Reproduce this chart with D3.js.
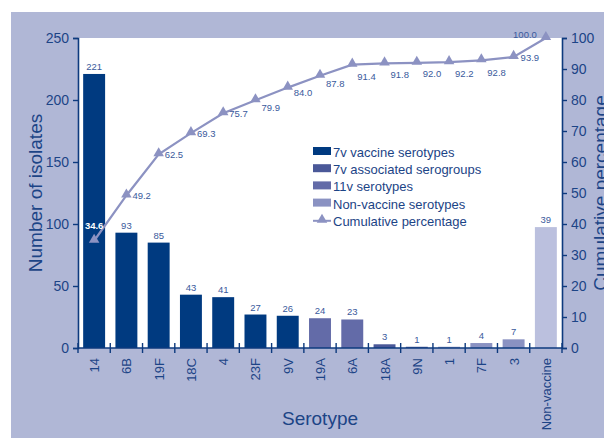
<!DOCTYPE html>
<html><head><meta charset="utf-8">
<script src="https://cdn.jsdelivr.net/npm/d3@7"></script>
<style>
html,body{margin:0;padding:0;background:#fff;}
svg{display:block;font-family:"Liberation Sans",Arial,sans-serif;}
</style></head>
<body>
<svg id="chart" width="604" height="438"></svg>
<script>
// ---- data ----
const categories = ["14","6B","19F","18C","4","23F","9V","19A","6A","18A","9N","1","7F","3","Non-vaccine"];
const isolates   = [221, 93, 85, 43, 41, 27, 26, 24, 23, 3, 1, 1, 4, 7, 39];
const cumulative = [34.6, 49.2, 62.5, 69.3, 75.7, 79.9, 84.0, 87.8, 91.4, 91.8, 92.0, 92.2, 92.8, 93.9, 100.0];
const groups     = ["v7","v7","v7","v7","v7","v7","v7","v11","v11","assoc","assoc","nonvac","nonvac","nonvac","other"];
const leftTicks  = [0, 50, 100, 150, 200, 250];
const rightTicks = [0, 10, 20, 30, 40, 50, 60, 70, 80, 90, 100];
const legendLabels = ["7v vaccine serotypes","7v associated serogroups","11v serotypes","Non-vaccine serotypes","Cumulative percentage"];
const legendGroups = ["v7","assoc","v11","nonvac"];

// ---- styling / placement ----
const groupColor = {v7:"#003a80", assoc:"#4a5898", v11:"#636ba8", nonvac:"#8a92c2", other:"#bbc0de"};
const lineColor = "#8c92c2";
const textColor = "#1c4486";
const axisColor = "#0d3a7e";
const labelColor = "#3a5a9c";
// cumulative label offsets (dx, dy, anchor) relative to marker
const cumLabelPlace = [
  [0,-15,"middle"],[6,0,"start"],[6,0,"start"],[6,0,"start"],[6,0,"start"],
  [6,7,"start"],[6,5,"start"],[6,8,"start"],[5,12,"start"],[6,11,"start"],
  [6,11,"start"],[6,11,"start"],[6,12,"start"],[7,1,"start"],[-9,-4,"end"]
];

const svg = d3.select("#chart");
const L = 78, R = 562, T = 38, B = 348;

svg.append("rect").attr("x",11).attr("y",12).attr("width",593).attr("height",426).attr("fill","#b0b7d6");
svg.append("rect").attr("x",L).attr("y",T).attr("width",R-L).attr("height",B-T).attr("fill","#fff");

const x = d3.scaleBand().domain(categories).range([L,R]).paddingInner(0.32).paddingOuter(0.16);
const yL = d3.scaleLinear().domain([0,250]).range([B,T]);
const yR = d3.scaleLinear().domain([0,100]).range([B,T]);
// the "Non-vaccine" bar is drawn against the right-hand (percentage) axis in the original
const barY = (i)=> groups[i]==="other" ? yR(isolates[i]) : yL(isolates[i]);

// bars
svg.append("g").selectAll("rect").data(categories).join("rect")
  .attr("x", d=>x(d)).attr("width", x.bandwidth())
  .attr("y", (d,i)=>barY(i)).attr("height",(d,i)=>B-barY(i))
  .attr("fill",(d,i)=>groupColor[groups[i]]);

// bar labels
svg.append("g").selectAll("text").data(categories).join("text")
  .attr("x", d=>x(d)+x.bandwidth()/2).attr("y",(d,i)=>barY(i)-4)
  .attr("text-anchor","middle").attr("font-size",9.5).attr("fill",labelColor)
  .text((d,i)=>isolates[i]);

// axes
const axL = d3.axisLeft(yL).tickValues(leftTicks).tickSizeOuter(0).tickSize(5).tickPadding(4);
const gL = svg.append("g").attr("transform",`translate(${L},0)`).call(axL);
const axRt = d3.axisRight(yR).tickValues(rightTicks).tickSizeOuter(0).tickSize(5).tickPadding(4);
const gR = svg.append("g").attr("transform",`translate(${R},0)`).call(axRt);
[gL,gR].forEach(g=>{
  g.select(".domain").attr("stroke",axisColor).attr("stroke-width",1.6);
  g.selectAll(".tick line").attr("stroke",axisColor).attr("stroke-width",1.4);
  g.selectAll(".tick text").attr("fill",textColor).attr("font-size",14).attr("font-family","Liberation Sans, Arial, sans-serif");
});

// x axis
const bounds = categories.map(c=>x(c)-x.step()*x.paddingInner()/2).concat([R]);
bounds[0] = L;
const gX = svg.append("g");
gX.append("line").attr("x1",L).attr("x2",R).attr("y1",B).attr("y2",B).attr("stroke",axisColor).attr("stroke-width",1.6);
gX.selectAll("line.t").data(bounds).join("line").attr("class","t")
  .attr("x1",d=>d).attr("x2",d=>d).attr("y1",B-5).attr("y2",B+5).attr("stroke",axisColor).attr("stroke-width",1.4);
gX.selectAll("text").data(categories).join("text")
  .attr("transform",d=>`translate(${x(d)+x.bandwidth()/2+5},358) rotate(-90)`)
  .attr("text-anchor","end").attr("font-size",13).attr("fill",textColor).text(d=>d);

// cumulative line
const cx = d=>x(d)+x.bandwidth()/2;
const line = d3.line().x((d,i)=>cx(categories[i])).y(d=>yR(d));
svg.append("path").datum(cumulative).attr("d",line).attr("fill","none").attr("stroke",lineColor).attr("stroke-width",2.2);
const tri = d3.symbol().type(d3.symbolTriangle).size(48);
svg.append("g").selectAll("path").data(cumulative).join("path")
  .attr("d",tri).attr("fill",lineColor)
  .attr("transform",(d,i)=>`translate(${cx(categories[i])},${yR(d)-1})`);
svg.append("g").selectAll("text").data(cumulative).join("text")
  .attr("x",(d,i)=>cx(categories[i])+cumLabelPlace[i][0])
  .attr("y",(d,i)=>yR(d)+cumLabelPlace[i][1]+3.5)
  .attr("text-anchor",(d,i)=>cumLabelPlace[i][2])
  .attr("font-size",9.5)
  .attr("font-weight",(d,i)=>i===0?"bold":"normal")
  .attr("fill",(d,i)=>i===0?"#fff":labelColor)
  .text(d=>d.toFixed(1));

// titles
svg.append("text").attr("transform",`translate(42,${(T+B)/2}) rotate(-90)`).attr("text-anchor","middle")
  .attr("font-size",19).attr("fill",textColor).text("Number of isolates");
svg.append("text").attr("transform",`translate(607,${(T+B)/2}) rotate(-90)`).attr("text-anchor","middle")
  .attr("font-size",19).attr("fill",textColor).text("Cumulative percentage");
svg.append("text").attr("x",(L+R)/2).attr("y",425).attr("text-anchor","middle")
  .attr("font-size",19).attr("fill",textColor).text("Serotype");

// legend
const lg = svg.append("g");
const ly0 = 152, lstep = 17.2;
legendLabels.forEach((lab,i)=>{
  const yy = ly0 + i*lstep;
  if (i < legendGroups.length) {
    lg.append("rect").attr("x",313).attr("y",yy-5).attr("width",18).attr("height",8).attr("fill",groupColor[legendGroups[i]]);
  } else {
    lg.append("line").attr("x1",313).attr("x2",331).attr("y1",yy).attr("y2",yy).attr("stroke",lineColor).attr("stroke-width",2);
    lg.append("path").attr("d",tri).attr("fill",lineColor).attr("transform",`translate(322,${yy-1})`);
  }
  lg.append("text").attr("x",333).attr("y",yy+5).attr("font-size",13).attr("fill",textColor).text(lab);
});
</script>
</body></html>
